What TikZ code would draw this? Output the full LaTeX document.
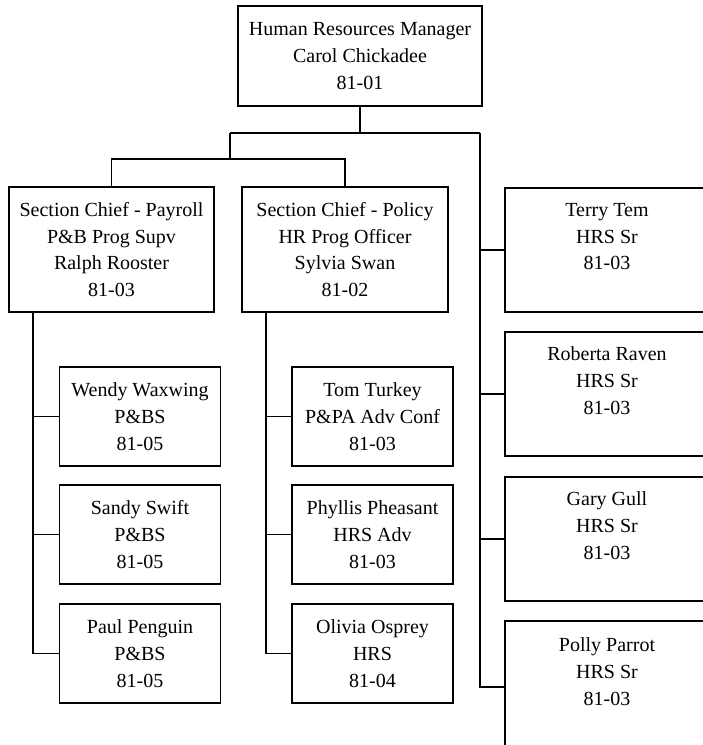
\documentclass[tikz,border=0pt]{standalone}
\usepackage{fontspec}
\setmainfont{Liberation Serif}
\begin{document}
\begin{tikzpicture}[x=1pt,y=-1pt,
  box/.style={draw, line width=1.5pt, line join=miter, inner sep=0pt, align=center,
    font=\fontsize{20}{26.8}\selectfont},
  chief/.style={box, minimum width=205pt, minimum height=125pt},
  staff/.style={box, minimum width=161pt, minimum height=99pt},
  senior/.style={box, minimum width=204pt, minimum height=124pt},
  conn/.style={line width=1.5pt, line join=miter}]
\useasboundingbox (0,0) rectangle (703,745);

\node[box, minimum width=244pt, minimum height=100pt] (top) at (360,56)
  {Human Resources Manager\\Carol Chickadee\\81-01};

\node[chief] (payroll) at (111.5,249.5) {Section Chief - Payroll\\P\&B Prog Supv\\Ralph Rooster\\81-03};
\node[chief, minimum width=206pt] (policy) at (345,249.5) {Section Chief - Policy\\HR Prog Officer\\Sylvia Swan\\81-02};

\node[staff] (wendy) at (140,416.5) {Wendy Waxwing\\P\&BS\\81-05};
\node[staff] (sandy) at (140,534.5) {Sandy Swift\\P\&BS\\81-05};
\node[staff] (paul) at (140,653.5) {Paul Penguin\\P\&BS\\81-05};

\node[staff] (tom) at (372.5,416.5) {Tom Turkey\\P\&PA Adv Conf\\81-03};
\node[staff] (phyllis) at (372.5,534.5) {Phyllis Pheasant\\HRS Adv\\81-03};
\node[staff] (olivia) at (372.5,653.5) {Olivia Osprey\\HRS\\81-04};

\node[senior] (terry) at (607,250) {Terry Tem\\HRS Sr\\81-03\\~};
\node[senior] (roberta) at (607,394) {Roberta Raven\\HRS Sr\\81-03\\~};
\node[senior] (gary) at (607,539) {Gary Gull\\HRS Sr\\81-03\\~};
\node[senior, minimum height=128pt] (polly) at (607,685) {Polly Parrot\\HRS Sr\\81-03\\~};

\coordinate (busL) at (230,133);
\coordinate (busR) at (480,133);
\coordinate (sec) at (230,159);
\coordinate (ptrunk) at ([xshift=-78.5pt]payroll.south);
\coordinate (qtrunk) at ([xshift=-79pt]policy.south);

\draw[conn] (top.south) -- (top.south |- busL);
\draw[conn] (busL) -- (busR);
\draw[conn] (busL) -- (sec);
\draw[conn] (payroll.north) |- (sec) -| (policy.north);

\draw[conn] (busR) |- ([yshift=-2pt]polly.west);
\draw[conn] (busR |- terry.west) -- (terry.west);
\draw[conn] (busR |- roberta.west) -- (roberta.west);
\draw[conn] (busR |- gary.west) -- (gary.west);

\draw[conn] (ptrunk) |- (paul.west);
\draw[conn] (ptrunk |- wendy.west) -- (wendy.west);
\draw[conn] (ptrunk |- sandy.west) -- (sandy.west);

\draw[conn] (qtrunk) |- (olivia.west);
\draw[conn] (qtrunk |- tom.west) -- (tom.west);
\draw[conn] (qtrunk |- phyllis.west) -- (phyllis.west);
\end{tikzpicture}
\end{document}
